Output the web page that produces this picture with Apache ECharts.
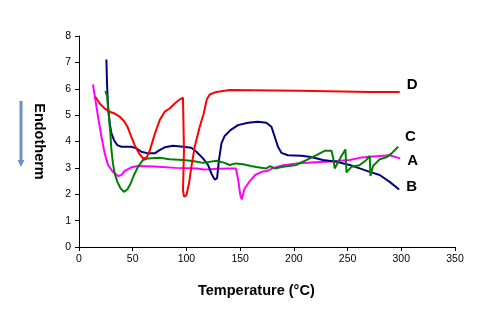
<!DOCTYPE html>
<html>
<head>
    <meta charset="utf-8">
    <title>DSC curves</title>
    <script src="https://cdn.jsdelivr.net/npm/echarts@6/dist/echarts.min.js"></script>
</head>
<body style="margin:0">
<div id="container" style="width: 504px;height: 319px;"></div>
<script type="text/javascript">

    // curve A (magenta)
    var aTemp = [13, 15.3, 17.7, 20.9, 23.9, 27, 31.6, 36.3, 39.5, 42.5, 48.8, 55, 70, 90, 110, 116, 122, 130, 140, 146, 148, 150, 151.5, 154, 159, 164, 170, 175, 181, 190, 205, 220, 230, 252, 261, 271, 280, 289, 299];
    var aVal  = [6.16, 5.57, 4.94, 4.18, 3.55, 3.11, 2.85, 2.69, 2.73, 2.89, 3.02, 3.07, 3.05, 3.0, 2.98, 2.94, 2.95, 2.97, 2.98, 2.98, 2.6, 2.0, 1.8, 2.2, 2.5, 2.73, 2.85, 2.88, 3.0, 3.1, 3.18, 3.21, 3.23, 3.3, 3.38, 3.42, 3.45, 3.48, 3.36];
    // curve B (navy)
    var bTemp = [25.5, 26.1, 27, 28.6, 30.2, 32.6, 35.7, 39.5, 48.8, 53.4, 58.1, 64.2, 70.5, 75, 79.8, 87.5, 96.8, 104.6, 109.3, 115.4, 120.1, 123.2, 126.3, 128.5, 130.3, 132.6, 135.6, 141, 148, 157.3, 166.6, 174.4, 179.1, 182.2, 185.2, 188.4, 194.5, 207, 216, 227, 239.6, 252, 261.3, 270.6, 279.9, 289.2, 298];
    var bVal  = [7.11, 6.2, 5.31, 4.69, 4.31, 4.05, 3.86, 3.80, 3.80, 3.74, 3.61, 3.55, 3.55, 3.67, 3.78, 3.84, 3.80, 3.76, 3.61, 3.36, 3.11, 2.79, 2.56, 2.60, 3.30, 3.93, 4.21, 4.43, 4.62, 4.71, 4.75, 4.71, 4.56, 4.18, 3.80, 3.57, 3.48, 3.46, 3.41, 3.30, 3.23, 3.11, 2.98, 2.85, 2.73, 2.47, 2.18];
    // curve C (green)
    var cTemp = [24.6, 26.4, 27, 27.9, 29.2, 30.2, 31.6, 33.2, 35.7, 38.8, 41.9, 45, 48.1, 51.2, 54.9, 59.6, 64.2, 75, 84.4, 96.8, 106, 115.4, 128, 135.6, 140.3, 146, 152.7, 160, 165, 174.4, 178, 182, 190, 202, 212, 221, 229, 235, 236.5, 238, 241, 244.3, 248, 249, 253.6, 261, 267.5, 270.6, 271.3, 273.7, 280, 286, 291, 297];
    var cVal  = [5.92, 5.69, 5.31, 4.94, 4.31, 3.67, 3.17, 2.79, 2.47, 2.22, 2.09, 2.18, 2.41, 2.73, 3.04, 3.30, 3.36, 3.38, 3.33, 3.30, 3.26, 3.19, 3.27, 3.19, 3.11, 3.17, 3.14, 3.07, 3.03, 2.98, 3.07, 2.98, 3.04, 3.11, 3.3, 3.48, 3.65, 3.65, 3.4, 2.98, 3.2, 3.45, 3.70, 2.83, 3.04, 3.1, 3.3, 3.45, 2.69, 3.07, 3.33, 3.4, 3.55, 3.8];
    // curve D (red)
    var dTemp = [15.3, 19.3, 23.9, 28.6, 33.2, 37.9, 41.9, 45.1, 48.1, 51.8, 55.9, 59.6, 62.7, 65.8, 70.5, 75.1, 79.8, 84.4, 89.1, 93.7, 96.8, 98.4, 97.7, 96.8, 97.7, 100, 102.4, 104.6, 107.7, 112.4, 116.1, 119, 121.7, 127.9, 140.3, 205, 270.6, 298.5];
    var dVal  = [5.69, 5.44, 5.25, 5.13, 5.06, 4.94, 4.78, 4.56, 4.24, 3.86, 3.55, 3.36, 3.38, 3.64, 4.28, 4.81, 5.13, 5.25, 5.44, 5.59, 5.66, 5.63, 3.67, 2.16, 1.91, 1.97, 2.41, 3.04, 3.80, 4.56, 5.06, 5.6, 5.78, 5.88, 5.95, 5.92, 5.88, 5.88];

    function pairs(xs, ys) {
        var out = [];
        for (var i = 0; i < xs.length; i++) {
            out.push([xs[i], ys[i]]);
        }
        return out;
    }

    var font = 'Liberation Sans, Arial, sans-serif';

    function curve(name, color, xs, ys, offset) {
        return {
            name: name,
            type: 'line',
            data: pairs(xs, ys),
            showSymbol: false,
            lineStyle: {color: color, width: 2},
            itemStyle: {color: color},
            endLabel: {
                show: true,
                formatter: name,
                color: '#000',
                fontWeight: 'bold',
                fontSize: 15,
                fontFamily: font,
                offset: offset
            }
        };
    }

    var myChart = echarts.init(document.getElementById('container'));

    var option = {
        animation: false,
        backgroundColor: '#fff',
        grid: {left: 79, right: 49, top: 36, bottom: 72},
        xAxis: {
            type: 'value',
            min: 0,
            max: 350,
            interval: 50,
            splitLine: {show: false},
            axisLine: {lineStyle: {color: '#000', width: 1}},
            axisTick: {length: 4, lineStyle: {color: '#000'}},
            axisLabel: {color: '#000', fontSize: 10.5, fontFamily: font, margin: 7}
        },
        yAxis: {
            type: 'value',
            min: 0,
            max: 8,
            interval: 1,
            name: 'Endotherm',
            nameLocation: 'middle',
            nameRotate: -90,
            nameGap: 33,
            nameTextStyle: {color: '#000', fontWeight: 'bold', fontSize: 14.5, fontFamily: font, padding: [0, 0, 0, 0]},
            splitLine: {show: false},
            axisLine: {show: true, lineStyle: {color: '#000', width: 1}},
            axisTick: {show: true, length: 4, lineStyle: {color: '#000'}},
            axisLabel: {color: '#000', fontSize: 10.5, fontFamily: font, margin: 8}
        },
        graphic: [
            {
                type: 'text',
                left: 198,
                top: 283,
                style: {text: 'Temperature (°C)', fill: '#000', font: 'bold 14.5px ' + font}
            },
            {
                type: 'line',
                shape: {x1: 21, y1: 101, x2: 21, y2: 161},
                style: {stroke: '#6f8fc6', lineWidth: 3}
            },
            {
                type: 'polygon',
                shape: {points: [[17.5, 160], [24.5, 160], [21, 167]]},
                style: {fill: '#6f8fc6'}
            }
        ],
        series: [
            curve('A', '#ff00ff', aTemp, aVal, [-1, 2]),
            curve('B', '#000080', bTemp, bVal, [-1, -3]),
            curve('C', '#008000', cTemp, cVal, [-1, -10]),
            curve('D', '#ff0000', dTemp, dVal, [-1, -7])
        ]
    };

    myChart.setOption(option);
</script>
</body>
</html>
